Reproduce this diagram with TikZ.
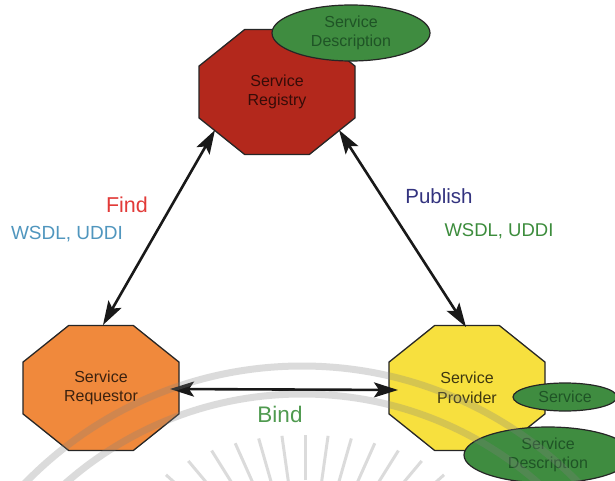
\documentclass[tikz,border=0pt]{standalone}
\usepackage{fontspec}
\setmainfont{Liberation Sans}
\usetikzlibrary{shapes.geometric,arrows.meta,calc}

\pgfdeclarelayer{background}
\pgfdeclarelayer{foreground}
\pgfsetlayers{background,main,foreground}

\definecolor{regred}{HTML}{B3281C}
\definecolor{reqorange}{HTML}{F0893C}
\definecolor{provyellow}{HTML}{F7E03E}
\definecolor{descgreen}{HTML}{3F8C40}
\definecolor{desctext}{HTML}{1F5426}
\definecolor{findred}{HTML}{E23A38}
\definecolor{findblue}{HTML}{5096BE}
\definecolor{pubnavy}{HTML}{33337F}
\definecolor{pubgreen}{HTML}{3C8C3C}
\definecolor{bindgreen}{HTML}{4F9A4F}

% octagon outline drawn behind a rectangular node of the same size
\newcommand{\octback}[2]{%
  \begin{pgfonlayer}{background}
    \filldraw[fill=#2, draw=black!85, line width=1.3pt, line join=miter]
      ($(#1.north west)!0.2929!(#1.north east)$) -- ($(#1.north west)!0.7071!(#1.north east)$)
      -- ($(#1.north east)!0.2929!(#1.south east)$) -- ($(#1.north east)!0.7071!(#1.south east)$)
      -- ($(#1.south east)!0.2929!(#1.south west)$) -- ($(#1.south east)!0.7071!(#1.south west)$)
      -- ($(#1.south west)!0.2929!(#1.north west)$) -- ($(#1.south west)!0.7071!(#1.north west)$)
      -- cycle;
  \end{pgfonlayer}}

\tikzset{
  octbox/.style={rectangle, inner sep=0pt, outer sep=0pt,
    minimum width=156pt, minimum height=125pt, align=center,
    font=\fontsize{16}{19.5}\selectfont},
  descbox/.style={ellipse, draw=black!85, line width=1.2pt, fill=descgreen,
    inner sep=0pt, align=center, text=desctext,
    font=\fontsize{16}{19.5}\selectfont},
  link/.style={line width=2.6pt, draw=black!90,
    {Stealth[length=24pt,width=15pt,inset=5pt]}-{Stealth[length=24pt,width=15pt,inset=5pt]}},
  lbl/.style={anchor=base, inner sep=0pt},
  sealring/.style={draw=black!50, opacity=0.28, line width=7pt},
  sealray/.style={draw=black!50, opacity=0.28, line width=3pt}
}

\begin{document}
\begin{tikzpicture}[x=1pt, y=-1pt]
  \useasboundingbox (0,0) rectangle (615,481);
  \begin{pgfonlayer}{background}
    \fill[white] (0,0) rectangle (615,481);
  \end{pgfonlayer}

  % the three roles
  \node[octbox, text={black!70!regred}] (reg) at (277,92) {Service\\Registry};
  \node[octbox, text={black!75!reqorange}] (req) at (101,388) {Service\\Requestor};
  \node[octbox, text={black!75!provyellow}] (prov) at (467,388) {Service\\Provider};
  \octback{reg}{regred}
  \octback{req}{reqorange}
  \octback{prov}{provyellow}

  % artefacts held by registry and provider
  \node[descbox, minimum width=158pt, minimum height=56pt] (regdesc) at (351,33) {Service\\Description};
  \node[descbox, minimum width=104pt, minimum height=28pt] (svc) at (565,397) {Service};
  \node[descbox, minimum width=168pt, minimum height=56pt] (provdesc) at (548,455) {Service\\Description};

  % interactions
  \draw[link] ($(reg.center)+(-62,38)$) -- ($(req.center)+(2,-63)$);
  \draw[link] ($(reg.center)+(62,38)$) -- ($(prov.center)+(-1,-61)$);
  \draw[link] ($(req.center)+(69,1)$) -- ($(prov.center)+(-69,2)$);

  % labels
  \node[lbl, text=findred, font=\fontsize{21.5}{25}\selectfont] (find) at (127,212) {Find};
  \node[lbl, text=findblue, font=\fontsize{19}{22}\selectfont] (findw) at (67,239) {WSDL, UDDI};
  \node[lbl, text=pubnavy, font=\fontsize{20.5}{24}\selectfont] (pub) at (439,203) {Publish};
  \node[lbl, text=pubgreen, font=\fontsize{18.5}{22}\selectfont] (pubw) at (499,236) {WSDL, UDDI};
  \node[lbl, text=bindgreen, font=\fontsize{22.5}{26}\selectfont] (bind) at (280,422) {Bind};

  % faint seal in the lower part
  \begin{pgfonlayer}{foreground}
    \begin{scope}
      \clip (0,0) rectangle (615,481);
      \coordinate (sealc) at (302,752);
      \draw[sealring] (sealc) circle[radius=386];
      \draw[sealring] (sealc) circle[radius=358];
      \coordinate (sun) at (305,600);
      \foreach \a in {-48,-40,...,48} {
        \draw[sealray]
          ($(sun)+({120*sin(\a)},{-120*cos(\a)})$) --
          ($(sun)+({(165+40*sin(\a)^2)*sin(\a)},{-(165+40*sin(\a)^2)*cos(\a)})$);
      }
    \end{scope}
  \end{pgfonlayer}
\end{tikzpicture}
\end{document}
